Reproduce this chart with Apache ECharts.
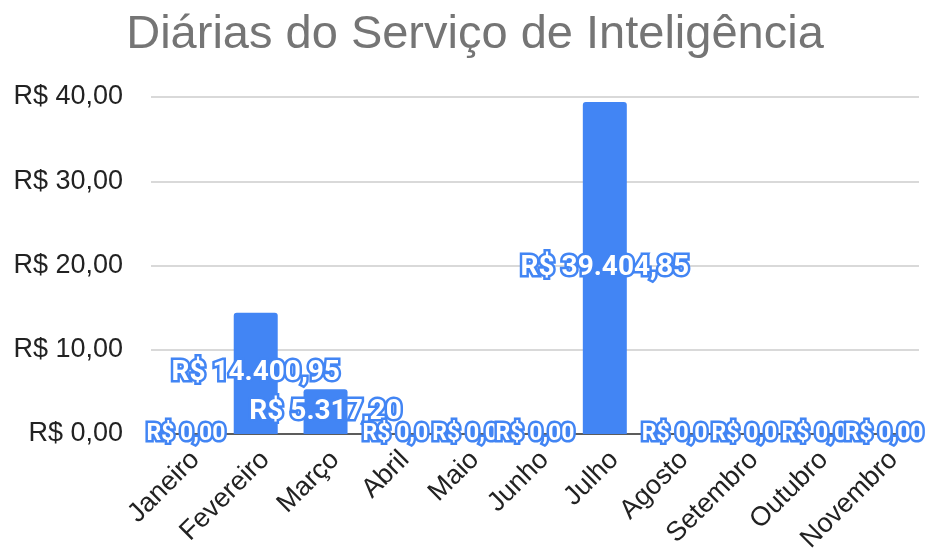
<!DOCTYPE html>
<html>
<head>
<meta charset="utf-8">
<script src="https://cdn.jsdelivr.net/npm/echarts@6/dist/echarts.min.js"></script>
<style>
  html, body { margin: 0; padding: 0; background: #fff; }
  #chart { width: 928px; height: 553px; }
</style>
</head>
<body>
<div id="chart"></div>
<script>
// meses e valores das diárias (R$)
var meses = ['Janeiro', 'Fevereiro', 'Março', 'Abril', 'Maio', 'Junho', 'Julho', 'Agosto', 'Setembro', 'Outubro', 'Novembro']
var valores = [0, 14400.95, 5317.20, 0, 0, 0, 39404.85, 0, 0, 0, 0]
var ticksY = [0, 10000, 20000, 30000, 40000]

function brl(v) {
  var partes = v.toFixed(2).split('.')
  var inteiro = partes[0].replace(/\B(?=(\d{3})+(?!\d))/g, '.')
  return 'R$ ' + inteiro + ',' + partes[1]
}

// rótulos zerados ficam menores; se o próximo também é zero, aparecem cortados
var dados = valores.map(function (v, i) {
  var item = { value: v }
  if (v === 0) {
    item.label = { fontSize: 23 }
    if (valores[i + 1] === 0) {
      item.label.width = 70
      item.label.overflow = 'truncate'
      item.label.ellipsis = ''
    }
  }
  return item
})

var chart = echarts.init(document.getElementById('chart'))
chart.setOption({
  animation: false,
  title: {
    text: 'Diárias do Serviço de Inteligência',
    left: 470,
    textAlign: 'center',
    top: 7,
    textStyle: { fontFamily: 'Liberation Sans', fontSize: 47, fontWeight: 'normal', color: '#757575' }
  },
  grid: { left: 151, right: 9, top: 97, bottom: 119, outerBoundsMode: 'none' },
  xAxis: {
    type: 'category',
    data: meses,
    axisLine: { lineStyle: { color: '#333', width: 1.5 } },
    axisTick: { show: false },
    axisLabel: {
      rotate: 45,
      interval: 0,
      margin: 12,
      verticalAlign: 'top',
      fontFamily: 'Liberation Sans',
      fontSize: 27,
      color: '#222'
    }
  },
  yAxis: {
    type: 'value',
    min: ticksY[0],
    max: ticksY[ticksY.length - 1],
    interval: ticksY[1] - ticksY[0],
    axisLabel: {
      fontFamily: 'Liberation Sans',
      fontSize: 27,
      color: '#222',
      margin: 28,
      formatter: function (v) { return 'R$ ' + (v / 1000) + ',00' }
    },
    splitLine: { lineStyle: { color: '#cccccc', width: 1.5 } }
  },
  series: [
    {
      type: 'bar',
      data: dados,
      barCategoryGap: '37%',
      itemStyle: { color: '#4285f4', borderRadius: [3, 3, 0, 0] },
      label: {
        show: true,
        position: 'inside',
        fontFamily: 'Roboto',
        fontWeight: 'bold',
        fontSize: 28,
        color: '#fff',
        textBorderColor: '#4285f4',
        textBorderWidth: 5,
        formatter: function (p) { return brl(p.value) }
      }
    }
  ]
})
</script>
</body>
</html>
